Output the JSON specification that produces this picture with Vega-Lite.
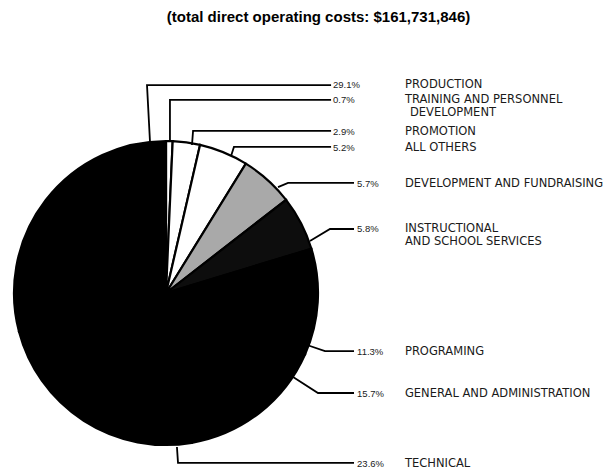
{
  "$schema": "https://vega.github.io/schema/vega-lite/v6.json",
  "autosize": "none",
  "width": 613,
  "height": 435,
  "padding": {"top": 40, "left": 0, "right": 0, "bottom": 0},
  "background": "white",
  "title": {
    "text": "(total direct operating costs: $161,731,846)",
    "font": "Liberation Sans",
    "fontSize": 15,
    "fontWeight": "bold",
    "color": "#000000",
    "anchor": "middle",
    "dx": 12,
    "offset": 15
  },
  "config": {"view": {"stroke": null}},
  "datasets": {
    "slices": [
      {"category": "TRAINING AND PERSONNEL DEVELOPMENT", "pct": 0.7, "ord": 1},
      {"category": "PROMOTION", "pct": 2.9, "ord": 2},
      {"category": "ALL OTHERS", "pct": 5.2, "ord": 3},
      {"category": "DEVELOPMENT AND FUNDRAISING", "pct": 5.7, "ord": 4},
      {"category": "INSTRUCTIONAL AND SCHOOL SERVICES", "pct": 5.8, "ord": 5},
      {"category": "PROGRAMING", "pct": 11.3, "ord": 6},
      {"category": "GENERAL AND ADMINISTRATION", "pct": 15.7, "ord": 7},
      {"category": "TECHNICAL", "pct": 23.6, "ord": 8},
      {"category": "PRODUCTION", "pct": 29.1, "ord": 9}
    ],
    "leaders": [
      {"category": "PRODUCTION", "step": 1, "x": -0.105, "y": 0.99},
      {"category": "PRODUCTION", "step": 2, "x": -0.125, "y": 1.368},
      {"category": "PRODUCTION", "step": 3, "x": 1.086, "y": 1.368},
      {"category": "TRAINING", "step": 1, "x": 0.026, "y": 0.993},
      {"category": "TRAINING", "step": 2, "x": 0.026, "y": 1.27},
      {"category": "TRAINING", "step": 3, "x": 1.086, "y": 1.27},
      {"category": "PROMOTION", "step": 1, "x": 0.171, "y": 0.974},
      {"category": "PROMOTION", "step": 2, "x": 0.178, "y": 1.066},
      {"category": "PROMOTION", "step": 3, "x": 1.086, "y": 1.066},
      {"category": "ALL OTHERS", "step": 1, "x": 0.428, "y": 0.901},
      {"category": "ALL OTHERS", "step": 2, "x": 0.447, "y": 0.961},
      {"category": "ALL OTHERS", "step": 3, "x": 1.086, "y": 0.961},
      {"category": "DEVELOPMENT", "step": 1, "x": 0.737, "y": 0.697},
      {"category": "DEVELOPMENT", "step": 2, "x": 0.803, "y": 0.724},
      {"category": "DEVELOPMENT", "step": 3, "x": 1.237, "y": 0.724},
      {"category": "INSTRUCTIONAL", "step": 1, "x": 0.947, "y": 0.342},
      {"category": "INSTRUCTIONAL", "step": 2, "x": 1.079, "y": 0.421},
      {"category": "INSTRUCTIONAL", "step": 3, "x": 1.237, "y": 0.421},
      {"category": "PROGRAMING", "step": 1, "x": 0.928, "y": -0.342},
      {"category": "PROGRAMING", "step": 2, "x": 1.046, "y": -0.382},
      {"category": "PROGRAMING", "step": 3, "x": 1.237, "y": -0.382},
      {"category": "GENERAL", "step": 1, "x": 0.836, "y": -0.553},
      {"category": "GENERAL", "step": 2, "x": 1.0, "y": -0.658},
      {"category": "GENERAL", "step": 3, "x": 1.237, "y": -0.658},
      {"category": "TECHNICAL", "step": 1, "x": 0.072, "y": -1.013},
      {"category": "TECHNICAL", "step": 2, "x": 0.079, "y": -1.118},
      {"category": "TECHNICAL", "step": 3, "x": 1.237, "y": -1.118}
    ],
    "percents": [
      {"text": "29.1%", "x": 1.099, "y": 1.368},
      {"text": "0.7%", "x": 1.099, "y": 1.27},
      {"text": "2.9%", "x": 1.099, "y": 1.059},
      {"text": "5.2%", "x": 1.099, "y": 0.954},
      {"text": "5.7%", "x": 1.257, "y": 0.717},
      {"text": "5.8%", "x": 1.257, "y": 0.421},
      {"text": "11.3%", "x": 1.257, "y": -0.388},
      {"text": "15.7%", "x": 1.257, "y": -0.664},
      {"text": "23.6%", "x": 1.257, "y": -1.125}
    ],
    "names": [
      {"text": "PRODUCTION", "x": 1.572, "y": 1.368},
      {"text": "TRAINING AND PERSONNEL", "x": 1.572, "y": 1.27},
      {"text": "DEVELOPMENT", "x": 1.605, "y": 1.186},
      {"text": "PROMOTION", "x": 1.572, "y": 1.059},
      {"text": "ALL OTHERS", "x": 1.572, "y": 0.954},
      {"text": "DEVELOPMENT AND FUNDRAISING", "x": 1.572, "y": 0.717},
      {"text": "INSTRUCTIONAL", "x": 1.572, "y": 0.421},
      {"text": "AND SCHOOL SERVICES", "x": 1.572, "y": 0.338},
      {"text": "PROGRAMING", "x": 1.572, "y": -0.388},
      {"text": "GENERAL AND ADMINISTRATION", "x": 1.572, "y": -0.664},
      {"text": "TECHNICAL", "x": 1.572, "y": -1.125}
    ]
  },
  "layer": [
    {
      "data": {"name": "slices"},
      "mark": {"type": "arc", "outerRadius": 152, "stroke": "#000000", "strokeWidth": 2.2},
      "encoding": {
        "x": {"datum": 0, "type": "quantitative", "scale": {"domain": [-1.0921, 2.9408], "nice": false, "zero": false}, "axis": null},
        "y": {"datum": 0, "type": "quantitative", "scale": {"domain": [-1.1974, 1.6645], "nice": false, "zero": false}, "axis": null},
        "theta": {"field": "pct", "type": "quantitative", "stack": true},
        "order": {"field": "ord", "type": "quantitative"},
        "color": {
          "field": "category",
          "type": "nominal",
          "legend": null,
          "scale": {
            "domain": ["TRAINING AND PERSONNEL DEVELOPMENT", "PROMOTION", "ALL OTHERS", "DEVELOPMENT AND FUNDRAISING", "INSTRUCTIONAL AND SCHOOL SERVICES", "PROGRAMING", "GENERAL AND ADMINISTRATION", "TECHNICAL", "PRODUCTION"],
            "range": ["#ffffff", "#ffffff", "#ffffff", "#a9a9a9", "#0d0d0d", "#000000", "#000000", "#000000", "#000000"]
          }
        }
      }
    },
    {
      "data": {"name": "leaders"},
      "mark": {"type": "line", "stroke": "#000000", "strokeWidth": 1.8, "interpolate": "linear"},
      "encoding": {
        "x": {"field": "x", "type": "quantitative"},
        "y": {"field": "y", "type": "quantitative"},
        "detail": {"field": "category", "type": "nominal"},
        "order": {"field": "step", "type": "quantitative"}
      }
    },
    {
      "data": {"name": "percents"},
      "mark": {"type": "text", "align": "left", "baseline": "middle", "font": "Liberation Sans", "fontSize": 9.5, "fill": "#1a1a1a"},
      "encoding": {
        "x": {"field": "x", "type": "quantitative"},
        "y": {"field": "y", "type": "quantitative"},
        "text": {"field": "text", "type": "nominal"}
      }
    },
    {
      "data": {"name": "names"},
      "mark": {"type": "text", "align": "left", "baseline": "middle", "font": "DejaVu Sans", "fontSize": 11.5, "fill": "#1a1a1a"},
      "encoding": {
        "x": {"field": "x", "type": "quantitative"},
        "y": {"field": "y", "type": "quantitative"},
        "text": {"field": "text", "type": "nominal"}
      }
    }
  ]
}
